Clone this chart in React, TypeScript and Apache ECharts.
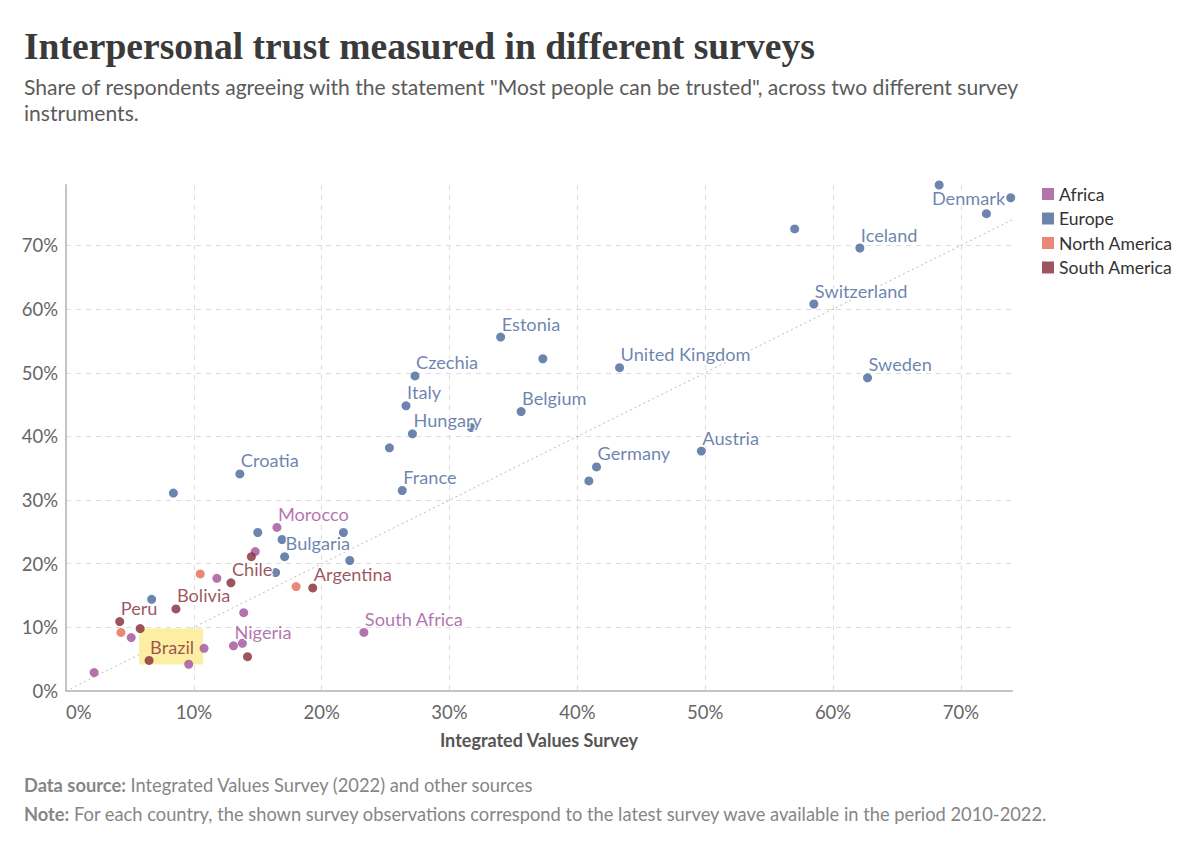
import React, { useEffect, useRef } from "react";
import * as echarts from "echarts";

// [IVS share (%), other survey share (%), label]
type Pt = [number, number, string];

const regions = ["Africa", "Europe", "North America", "South America"];
const regionColors = ["#a2559c", "#4c6a9c", "#e56e5a", "#883039"];

const africaPoints: Pt[] = [
  [16.5, 25.7, "Morocco"],
  [14.8, 21.9, ""],
  [11.8, 17.7, ""],
  [13.9, 12.3, ""],
  [5.1, 8.4, ""],
  [23.3, 9.2, "South Africa"],
  [13.1, 7.1, "Nigeria"],
  [13.8, 7.5, ""],
  [10.8, 6.7, ""],
  [9.6, 4.2, ""],
  [2.2, 2.9, ""],
];

const europePoints: Pt[] = [
  [73.9, 77.5, "Denmark"],
  [68.3, 79.5, ""],
  [72.0, 75.0, ""],
  [62.1, 69.6, "Iceland"],
  [57.0, 72.6, ""],
  [58.5, 60.8, "Switzerland"],
  [62.7, 49.2, "Sweden"],
  [43.3, 50.8, "United Kingdom"],
  [34.0, 55.6, "Estonia"],
  [37.3, 52.2, ""],
  [27.3, 49.5, "Czechia"],
  [26.6, 44.8, "Italy"],
  [35.6, 43.9, "Belgium"],
  [31.7, 41.4, ""],
  [27.1, 40.4, "Hungary"],
  [25.3, 38.2, ""],
  [26.3, 31.5, "France"],
  [41.5, 35.2, "Germany"],
  [40.9, 33.0, ""],
  [49.7, 37.7, "Austria"],
  [8.4, 31.1, ""],
  [13.6, 34.1, "Croatia"],
  [15.0, 24.9, ""],
  [21.7, 24.9, ""],
  [16.9, 23.8, ""],
  [17.1, 21.1, "Bulgaria"],
  [22.2, 20.5, ""],
  [16.4, 18.6, ""],
  [6.7, 14.4, ""],
];

const northAmericaPoints: Pt[] = [
  [10.5, 18.4, ""],
  [18.0, 16.4, ""],
  [4.3, 9.2, ""],
];

const southAmericaPoints: Pt[] = [
  [14.5, 21.1, ""],
  [12.9, 17.0, "Chile"],
  [19.3, 16.2, "Argentina"],
  [8.6, 12.9, "Bolivia"],
  [4.2, 10.9, "Peru"],
  [5.8, 9.8, ""],
  [14.2, 5.4, ""],
  [6.5, 4.8, "Brazil"],
];

const leftLabels = ["Denmark"];
const highlighted = ["Brazil"];
const equalityLine: [number, number][] = [
  [0, 0],
  [74, 74],
];
const xMax = 74;
const yMax = 79.5;
const tickInterval = 10;

const regionPoints = [africaPoints, europePoints, northAmericaPoints, southAmericaPoints];

const FONT = "Lato";

export default function App() {
  const ref = useRef<HTMLDivElement>(null);

  useEffect(() => {
    if (!ref.current) return;
    const chart = echarts.init(ref.current, undefined, { renderer: "svg" });

    const regionSeries = regions.map((region, i) => ({
      type: "scatter",
      name: region,
      z: 3,
      symbol: "circle",
      symbolSize: 9,
      itemStyle: { color: regionColors[i], opacity: 0.82 },
      emphasis: { disabled: true },
      data: regionPoints[i].map((p) => {
        const isLeft = leftLabels.includes(p[2]);
        const isHi = highlighted.includes(p[2]);
        return {
          value: [p[0], p[1]],
          name: p[2],
          label: {
            show: p[2] !== "",
            formatter: p[2],
            position: isLeft ? "left" : "top",
            distance: isLeft ? 1 : 0,
            align: isLeft ? "right" : "left",
            verticalAlign: isLeft ? "middle" : "bottom",
            offset: isLeft ? [0, 0] : [1, 0],
            color: regionColors[i],
            fontFamily: FONT,
            fontSize: 18.2,
            lineHeight: 18,
            textBorderColor: "#ffffff",
            textBorderWidth: isHi ? 0 : 3,
          },
        };
      }),
    }));

    const highlightData: number[][] = [];
    regionPoints.forEach((pts) =>
      pts.forEach((p) => {
        if (highlighted.includes(p[2])) highlightData.push([p[0], p[1]]);
      })
    );

    const footStyle = {
      fontFamily: FONT,
      fontSize: 18.3,
      lineHeight: 18,
      fontWeight: "normal",
      color: "#868686",
      rich: { b: { fontFamily: FONT, fontSize: 18.3, lineHeight: 18, fontWeight: "bold", color: "#868686" } },
    };

    chart.setOption({
      animation: false,
      backgroundColor: "#ffffff",
      title: [
        {
          text: "Interpersonal trust measured in different surveys",
          left: 24,
          top: 27,
          padding: 0,
          textStyle: {
            fontFamily: "Liberation Serif",
            fontWeight: "bold",
            fontSize: 37.6,
            color: "#3a3a3a",
          },
        },
        {
          text:
            'Share of respondents agreeing with the statement "Most people can be trusted", across two different survey\ninstruments.',
          left: 24,
          top: 73,
          padding: 0,
          textStyle: {
            fontFamily: FONT,
            fontSize: 21.1,
            fontWeight: "normal",
            color: "#5b5b5b",
            lineHeight: 26,
          },
        },
        {
          text: "{b|Data source:} Integrated Values Survey (2022) and other sources",
          left: 24,
          top: 776,
          padding: 0,
          textStyle: footStyle,
        },
        {
          text:
            "{b|Note:} For each country, the shown survey observations correspond to the latest survey wave available in the period 2010-2022.",
          left: 24,
          top: 805,
          padding: 0,
          textStyle: footStyle,
        },
      ],
      legend: {
        data: regions,
        orient: "vertical",
        left: 1042,
        top: 185,
        padding: 0,
        icon: "rect",
        itemWidth: 12,
        itemHeight: 12,
        itemGap: 6.5,
        selectedMode: false,
        textStyle: { fontFamily: FONT, fontSize: 17.6, color: "#333", lineHeight: 18 },
      },
      grid: { left: 66, right: 188, top: 185, bottom: 156, containLabel: false },
      xAxis: {
        type: "value",
        min: 0,
        max: xMax,
        interval: tickInterval,
        name: "Integrated Values Survey",
        nameLocation: "middle",
        nameGap: 40,
        nameTextStyle: { fontFamily: FONT, fontSize: 18, fontWeight: "bold", color: "#555" },
        axisLine: { show: true, lineStyle: { color: "#c4c4c4", width: 2 } },
        axisTick: { show: false },
        axisLabel: {
          formatter: "{value}%",
          color: "#666",
          fontFamily: FONT,
          fontSize: 18.5,
          margin: 11,
          showMaxLabel: false,
          alignMinLabel: "left",
        },
        splitLine: {
          show: true,
          showMinLine: false,
          showMaxLine: false,
          lineStyle: { color: "#dddddd", type: [5, 5], width: 1 },
        },
      },
      yAxis: {
        type: "value",
        min: 0,
        max: yMax,
        interval: tickInterval,
        axisLine: { show: true, lineStyle: { color: "#c4c4c4", width: 2 } },
        axisTick: { show: false },
        axisLabel: {
          formatter: "{value}%",
          color: "#666",
          fontFamily: FONT,
          fontSize: 18.5,
          margin: 8,
          showMaxLabel: false,
        },
        splitLine: {
          show: true,
          showMinLine: false,
          showMaxLine: false,
          lineStyle: { color: "#dddddd", type: [5, 5], width: 1 },
        },
      },
      series: [
        {
          type: "line",
          name: "equality",
          data: equalityLine,
          symbol: "none",
          silent: true,
          z: 1,
          lineStyle: { color: "#bbbbbb", width: 1, type: [2, 3] },
        },
        {
          type: "scatter",
          name: "highlight",
          data: highlightData,
          symbol: "rect",
          symbolSize: [64, 36],
          symbolOffset: [22, -14],
          silent: true,
          z: 2,
          itemStyle: { color: "#fcefa3", opacity: 1 },
        },
        ...regionSeries,
      ],
    });

    return () => chart.dispose();
  }, []);

  return (
    <div
      ref={ref}
      style={{ position: "fixed", left: 0, top: 0, width: 1200, height: 847, background: "#fff" }}
    />
  );
}
